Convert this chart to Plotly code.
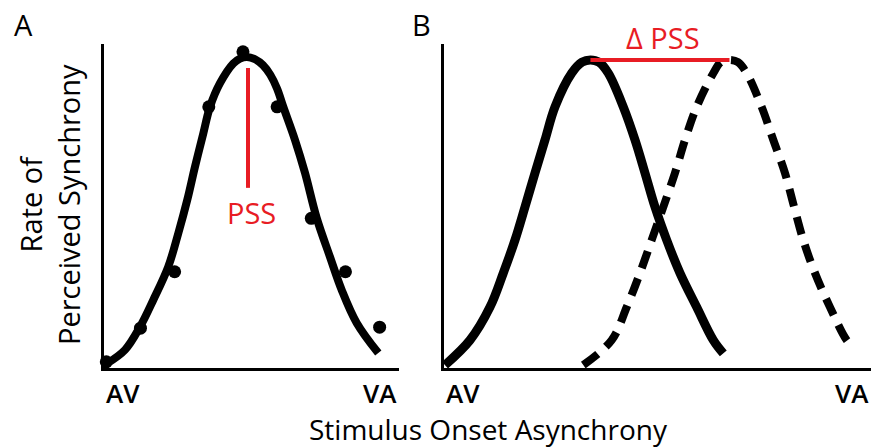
import plotly.graph_objects as go

# ---------------- data (SOA in ms, rate of perceived synchrony 0-1) ----------------
# Panel A: observed rates at each SOA level and the fitted curve
soa_levels = [-400, -300, -200, -100, 0, 100, 200, 300, 400]
rate_obs = [0.019, 0.123, 0.297, 0.806, 0.976, 0.806, 0.462, 0.297, 0.126]

fit_a_soa = [-397.9, -345.2, -301.3, -262.4, -218.5, -189.2, -162.9, -140.4, -116.1,
             -96.5, -67.2, -28.3, -8.7, 11.8, 35.2, 58.6, 80.0, 100.0, 118.1, 152.3,
             181.6, 215.8, 254.7, 289.0, 332.9, 396.1]
fit_a_rate = [0.014, 0.056, 0.127, 0.210, 0.313, 0.416, 0.519, 0.621, 0.724,
              0.806, 0.879, 0.940, 0.955, 0.960, 0.953, 0.935, 0.905, 0.862, 0.806, 0.704,
              0.602, 0.463, 0.343, 0.241, 0.139, 0.046]
pss_a = 14.7
pss_a_line = [0.556, 0.926]

# Panel B: baseline curve (solid) and shifted curve (dashed)
base_soa = [-403.8, -330.6, -272.1, -233.2, -198.9, -169.7, -140.4, -111.1, -81.9,
            -33.0, -2.8, 21.9, 46.9, 74.1, 118.0, 152.3, 181.5, 210.8, 245.0, 284.0,
            332.8, 381.4, 410.7]
base_rate = [0.009, 0.086, 0.188, 0.293, 0.395, 0.497, 0.602, 0.704, 0.806,
             0.910, 0.944, 0.951, 0.944, 0.910, 0.806, 0.704, 0.602, 0.497, 0.395, 0.293,
             0.188, 0.086, 0.045]
shift_soa = [1.0, 84.1, 128.0, 166.9, 201.1, 235.1, 269.3, 298.6, 332.8,
             381.4, 403.9, 428.8, 453.7, 479.1, 523.0, 557.0, 591.2, 618.0, 644.8, 679.0,
             722.9, 771.8, 791.1]
shift_rate = [0.009, 0.086, 0.188, 0.293, 0.395, 0.497, 0.602, 0.704, 0.806,
              0.910, 0.944, 0.951, 0.944, 0.910, 0.806, 0.704, 0.602, 0.497, 0.395, 0.293,
              0.188, 0.086, 0.066]
pss_base = 21.9
pss_shift = 428.8
peak_b = 0.951

# ---------------- figure ----------------
W, H = 871, 447
RED = "rgb(232,28,36)"
FONT = "Open Sans"

fig = go.Figure()

# Panel A
fig.add_trace(go.Scatter(x=fit_a_soa, y=fit_a_rate, mode="lines",
                         line=dict(color="black", width=8, shape="spline", smoothing=1),
                         xaxis="x", yaxis="y", cliponaxis=False))
fig.add_trace(go.Scatter(x=soa_levels, y=rate_obs, mode="markers",
                         marker=dict(color="black", size=13),
                         xaxis="x", yaxis="y", cliponaxis=False))
fig.add_trace(go.Scatter(x=[pss_a, pss_a], y=pss_a_line, mode="lines",
                         line=dict(color=RED, width=4), xaxis="x", yaxis="y"))

# Panel B
fig.add_trace(go.Scatter(x=base_soa, y=base_rate, mode="lines",
                         line=dict(color="black", width=9, shape="spline", smoothing=1),
                         xaxis="x2", yaxis="y2", cliponaxis=False))
fig.add_trace(go.Scatter(x=shift_soa, y=shift_rate, mode="lines",
                         line=dict(color="black", width=8, shape="spline", smoothing=1,
                                   dash="18px,11px"),
                         xaxis="x2", yaxis="y2", cliponaxis=False))
fig.add_trace(go.Scatter(x=[pss_base, pss_shift], y=[peak_b, peak_b], mode="lines",
                         line=dict(color=RED, width=4), xaxis="x2", yaxis="y2",
                         cliponaxis=False))

y_dom = [1 - 368 / H, 1 - 44 / H]
axis_common = dict(showline=True, linewidth=3, linecolor="black", showgrid=False,
                   zeroline=False, showticklabels=False, ticks="", fixedrange=True)

fig.update_layout(
    width=W, height=H,
    margin=dict(l=0, r=0, t=0, b=0),
    paper_bgcolor="white", plot_bgcolor="white",
    showlegend=False,
    font=dict(family=FONT, color="black", size=29),
    xaxis=dict(domain=[104 / W, 399 / W], range=[-406.7, 456.7], anchor="y", **axis_common),
    yaxis=dict(domain=y_dom, range=[0, 1], anchor="x", **axis_common),
    xaxis2=dict(domain=[444 / W, 1.0], range=[-406.7, 843.0], anchor="y2", **axis_common),
    yaxis2=dict(domain=y_dom, range=[0, 1], anchor="x2", **axis_common),
)

ann = []
# panel letters
ann.append(dict(text="A", x=23 / W, y=1 - 25 / H, xref="paper", yref="paper",
                showarrow=False, xanchor="center", yanchor="middle", font=dict(size=29)))
ann.append(dict(text="B", x=421 / W, y=1 - 25 / H, xref="paper", yref="paper",
                showarrow=False, xanchor="center", yanchor="middle", font=dict(size=29)))
# tick-like labels
tick_y = 1 - 393 / H
for xr in ["x domain", "x2 domain"]:
    ann.append(dict(text="AV", x=0, y=tick_y, xref=xr, yref="paper", showarrow=False,
                    xanchor="left", yanchor="middle", font=dict(size=26, weight=600)))
    ann.append(dict(text="VA", x=1, y=tick_y, xref=xr, yref="paper", showarrow=False,
                    xanchor="right", yanchor="middle", font=dict(size=26, weight=600)))
# axis titles
ann.append(dict(text="Stimulus Onset Asynchrony", x=488 / W, y=1 - 429 / H,
                xref="paper", yref="paper", showarrow=False,
                xanchor="center", yanchor="middle", font=dict(size=28)))
ann.append(dict(text="Rate of<br>Perceived Synchrony", x=49 / W, y=1 - 205 / H,
                xref="paper", yref="paper", showarrow=False, textangle=-90,
                xanchor="center", yanchor="middle", font=dict(size=29)))
# PSS labels
ann.append(dict(text="PSS", x=pss_a + 9, y=0.481, xref="x", yref="y", showarrow=False,
                xanchor="center", yanchor="middle", font=dict(size=29, color=RED)))
ann.append(dict(text="Δ PSS", x=(pss_base + pss_shift) / 2 + 10, y=1 - 37 / H,
                xref="x2", yref="paper",
                showarrow=False, xanchor="center", yanchor="middle",
                font=dict(size=29, color=RED)))
fig.update_layout(annotations=ann)

fig.write_html("out.html", config={"displayModeBar": False},
               post_script="document.body.style.margin='0';document.body.style.overflow='hidden';")
